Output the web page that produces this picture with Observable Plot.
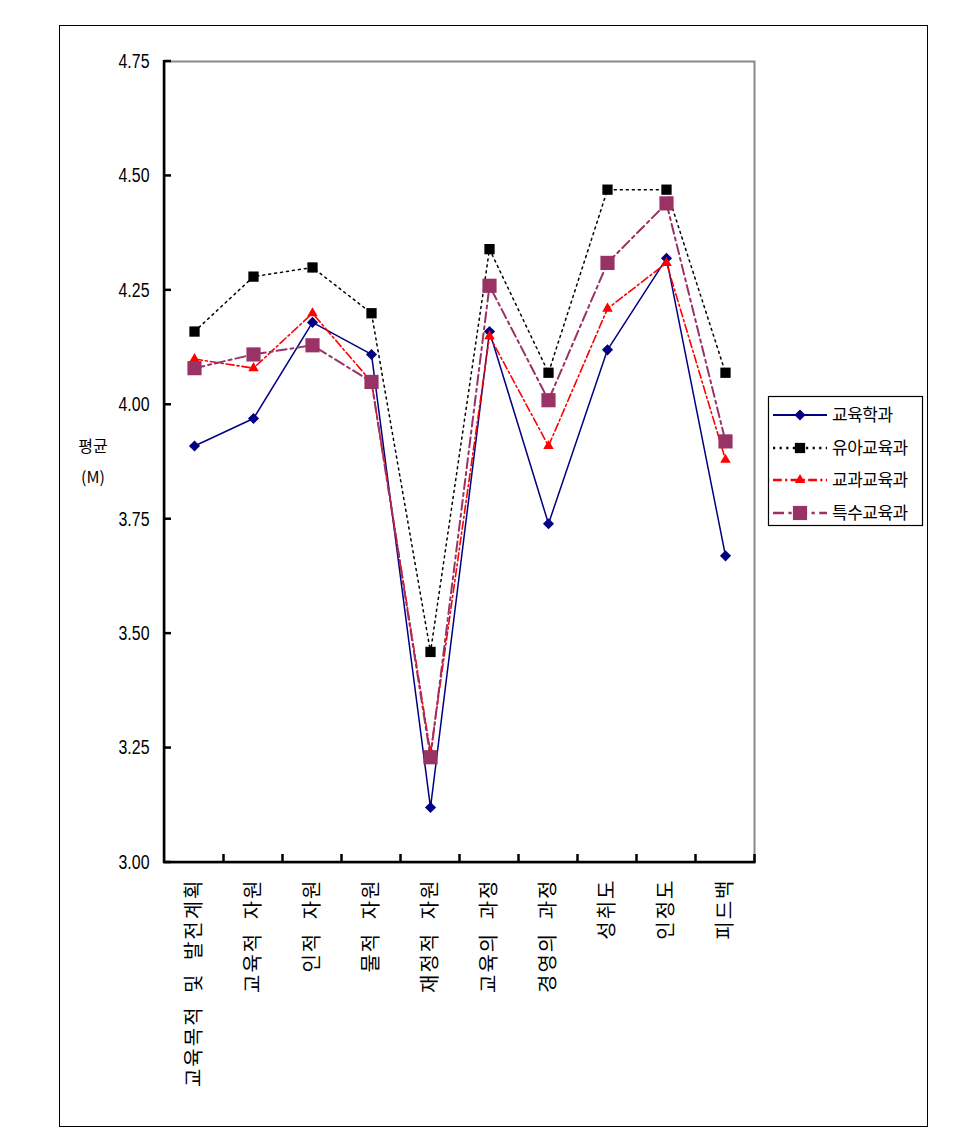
<!DOCTYPE html>
<html><head><meta charset="utf-8">
<script src="https://cdn.jsdelivr.net/npm/d3@7"></script>
<script src="https://cdn.jsdelivr.net/npm/@observablehq/plot@0.6"></script>
<style>
body{margin:0;background:#fff;}
#wrap{position:relative;width:979px;height:1143px;}
#border{position:absolute;left:59px;top:25px;width:869px;height:1102px;border:1.5px solid #000;box-sizing:border-box;pointer-events:none;}
#wrap svg{position:absolute;left:0;top:0;}
</style></head><body><div id="wrap"><div id="border"></div></div>
<script>
const categories = ["교육목적 및 발전계획","교육적 자원","인적 자원","물적 자원","재정적 자원","교육의 과정","경영의 과정","성취도","인정도","피드백"];
const seriesNames = ["교육학과","유아교육과","교과교육과","특수교육과"];
const eduValues     = [3.91,3.97,4.18,4.11,3.12,4.16,3.74,4.12,4.32,3.67];
const earlyValues   = [4.16,4.28,4.30,4.20,3.46,4.34,4.07,4.47,4.47,4.07];
const subjectValues = [4.10,4.08,4.20,4.05,3.24,4.15,3.91,4.21,4.31,3.88];
const specialValues = [4.08,4.11,4.13,4.05,3.23,4.26,4.01,4.31,4.44,3.92];
const yTicks = [3.00,3.25,3.50,3.75,4.00,4.25,4.50,4.75];
const yTitle = ["평균","(M)"];

const values = [eduValues, earlyValues, subjectValues, specialValues];
const styles = [
  {color:"#000080", dash:null, width:1.5, symbol:"diamond2", r:5, d3sym:d3.symbolDiamond2},
  {color:"#000000", dash:"2,4", width:1.5, symbol:"square", r:5.8, d3sym:d3.symbolSquare},
  {color:"#ff0000", dash:"8,3,2,3", width:1.6, symbol:"triangle", r:3.9, d3sym:d3.symbolTriangle},
  {color:"#993366", dash:"10,4,3,4", width:2, symbol:"square", r:8, d3sym:d3.symbolSquare}
];

const table = seriesNames.flatMap((s,i)=>values[i].map((v,j)=>({series:s, idx:i, cat:categories[j], value:v})));

const W=979, H=1143, ML=164, MR=225, MT=61, MB=281;
const lines = seriesNames.map((s,i)=>Plot.line(table.filter(d=>d.idx===i), {x:"cat", y:"value", stroke:styles[i].color, strokeWidth:styles[i].width, strokeDasharray:styles[i].dash || undefined}));
const dots = seriesNames.map((s,i)=>Plot.dot(table.filter(d=>d.idx===i), {x:"cat", y:"value", symbol:()=>styles[i].symbol, r:styles[i].r, fill:styles[i].color, stroke:"none"}));

const plot = Plot.plot({
  width:W, height:H, marginLeft:ML, marginRight:MR, marginTop:MT, marginBottom:MB,
  style:{fontFamily:"'Noto Sans CJK KR', sans-serif", fontSize:"17px", background:"transparent", color:"#000", overflow:"visible"},
  x:{type:"point", domain:categories, padding:0.5, tickRotate:-90, tickSize:0, tickPadding:16, label:null},
  y:{domain:[3,4.75], ticks:yTicks, tickFormat:d=>d.toFixed(2), tickSize:0, tickPadding:15, label:null},
  symbol:{type:"identity"},
  marks:[
    Plot.frame({stroke:"#888", strokeWidth:2}),
    ...lines,
    ...dots
  ]
});

const svg = d3.select(plot);
svg.selectAll('[aria-label^="y-axis"] text')
  .style("font-family","'Liberation Sans', sans-serif")
  .style("font-size","20px")
  .attr("textLength",31).attr("lengthAdjust","spacingAndGlyphs");
svg.selectAll('[aria-label^="x-axis"] text')
  .style("font-family","'Noto Sans CJK KR', sans-serif")
  .style("font-size","20px").style("letter-spacing","2px").style("word-spacing","6px");

const sx = plot.scale("x"), sy = plot.scale("y");
const step = sx.apply(categories[1]) - sx.apply(categories[0]);
const y0 = sy.apply(3), y1 = sy.apply(4.75);
const xr = sx.apply(categories[categories.length-1]) + step/2;
const g = svg.append("g").attr("stroke","#000").attr("stroke-width",2.5);
g.append("line").attr("x1",ML).attr("x2",ML).attr("y1",y0+1).attr("y2",y1-1);
g.append("line").attr("x1",ML-1).attr("x2",xr+1).attr("y1",y0).attr("y2",y0);
yTicks.forEach(t=>g.append("line").attr("x1",ML).attr("x2",ML+7).attr("y1",sy.apply(t)).attr("y2",sy.apply(t)));
categories.forEach(c=>{const x=sx.apply(c)+step/2; g.append("line").attr("x1",x).attr("x2",x).attr("y1",y0).attr("y2",y0-8);});

// y title
const yt = svg.append("g").attr("font-family","'Noto Sans CJK KR', sans-serif").attr("font-size",16).attr("text-anchor","middle");
yTitle.forEach((t,i)=>yt.append("text").attr("x",93).attr("y",446+i*31).attr("dy","0.35em").text(t));

// legend
const lg = svg.append("g");
lg.append("rect").attr("x",768.5).attr("y",396.5).attr("width",154).attr("height",129).attr("fill","#fff").attr("stroke","#000").attr("stroke-width",1.2);
const rowsY = [415,448,480,513];
seriesNames.forEach((s,i)=>{
  const st = styles[i], y = rowsY[i];
  lg.append("line").attr("x1",773).attr("x2",827).attr("y1",y).attr("y2",y).attr("stroke",st.color).attr("stroke-width",i===0?2:2.5).attr("stroke-dasharray",st.dash?st.dash.split(",").map(v=>+v*1.1).join(","):null);
  lg.append("path").attr("transform",`translate(800,${y})`).attr("d",d3.symbol(st.d3sym, Math.PI*st.r*st.r)()).attr("fill",st.color);
  lg.append("text").attr("x",832).attr("y",y).attr("dy","0.35em").attr("text-anchor","start").attr("font-family","'Noto Sans CJK KR', sans-serif").attr("font-size",17).attr("letter-spacing","-0.5px").text(s);
});

document.getElementById("wrap").appendChild(plot);
</script></body></html>
